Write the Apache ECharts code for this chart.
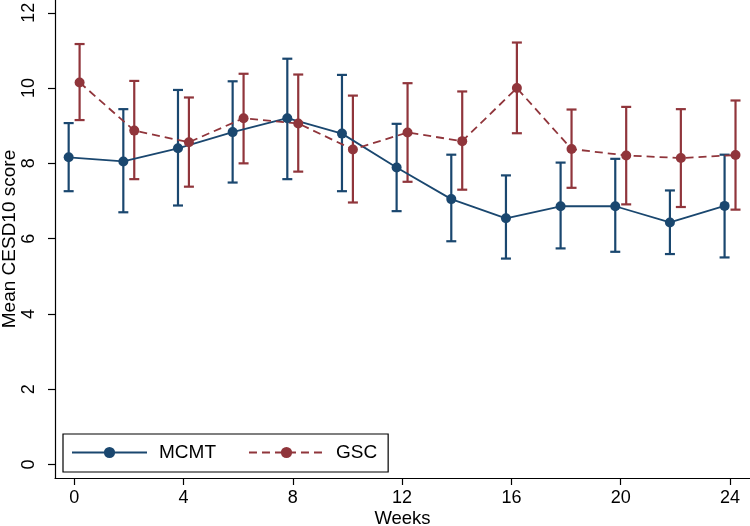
<!DOCTYPE html>
<html>
<head>
<meta charset="utf-8">
<script src="https://cdn.jsdelivr.net/npm/echarts@6/dist/echarts.min.js"></script>
<style>html,body{margin:0;padding:0;background:#fff}#c{width:750px;height:526px}</style>
</head>
<body>
<div id="c"></div>
<script>
const weeks = [0, 2, 4, 6, 8, 10, 12, 14, 16, 18, 20, 22, 24];
const mcmtMean  = [8.16, 8.05, 8.40, 8.83, 9.20, 8.79, 7.89, 7.05, 6.54, 6.86, 6.86, 6.43, 6.87];
const mcmtLower = [7.26, 6.70, 6.88, 7.49, 7.58, 7.26, 6.73, 5.93, 5.47, 5.74, 5.65, 5.59, 5.50];
const mcmtUpper = [9.07, 9.44, 9.95, 10.18, 10.78, 10.35, 9.05, 8.23, 7.68, 8.02, 8.12, 7.28, 8.23];
const gscMean   = [10.15, 8.87, 8.56, 9.20, 9.06, 8.37, 8.82, 8.59, 10.00, 8.38, 8.21, 8.14, 8.22];
const gscLower  = [9.15, 7.58, 7.38, 8.00, 7.78, 6.96, 7.51, 7.30, 8.80, 7.35, 6.91, 6.84, 6.77];
const gscUpper  = [11.17, 10.19, 9.75, 10.38, 10.36, 9.80, 10.13, 9.91, 11.21, 9.43, 9.50, 9.44, 9.67];
const xTicks = [0, 4, 8, 12, 16, 20, 24];
const yTicks = [0, 2, 4, 6, 8, 10, 12];

const DODGE = 0.2;
const BLUE = '#1a476f';
const RED = '#90353b';
const FONT = 'Liberation Sans, Arial, sans-serif';

function pts(mean, off) { return weeks.map((w, i) => [w + off, mean[i]]); }
function bars(lo, hi, off) { return weeks.map((w, i) => [w + off, lo[i], hi[i]]); }

function errRender(color) {
  return function (params, api) {
    const x = api.value(0);
    const a = api.coord([x, api.value(1)]);
    const b = api.coord([x, api.value(2)]);
    const hw = 5;
    const st = { stroke: color, lineWidth: 2.2 };
    return {
      type: 'group',
      children: [
        { type: 'line', shape: { x1: a[0], y1: a[1], x2: b[0], y2: b[1] }, style: st },
        { type: 'line', shape: { x1: a[0] - hw, y1: a[1], x2: a[0] + hw, y2: a[1] }, style: st },
        { type: 'line', shape: { x1: b[0] - hw, y1: b[1], x2: b[0] + hw, y2: b[1] }, style: st }
      ]
    };
  };
}

const chart = echarts.init(document.getElementById('c'));
chart.setOption({
  animation: false,
  backgroundColor: '#fff',
  textStyle: { fontFamily: FONT },
  grid: { left: 55, right: 0, top: 0, bottom: 48, containLabel: false, outerBoundsMode: 'none' },
  xAxis: {
    type: 'value', min: -0.7, max: 24.73,
    name: 'Weeks', nameLocation: 'middle', nameGap: 31, nameMoveOverlap: false,
    nameTextStyle: { fontSize: 18.5, color: '#000', fontFamily: FONT },
    axisLine: { show: true, onZero: false, lineStyle: { color: '#000', width: 1.2 } },
    axisTick: { show: true, length: 7, customValues: xTicks, lineStyle: { color: '#000', width: 1.2 } },
    axisLabel: { customValues: xTicks, fontSize: 18, color: '#000', margin: 11, fontFamily: FONT },
    splitLine: { show: false }
  },
  yAxis: {
    type: 'value', min: -0.36, max: 12.34,
    name: 'Mean CESD10 score', nameLocation: 'middle', nameGap: 36, nameMoveOverlap: false,
    nameTextStyle: { fontSize: 19, color: '#000', fontFamily: FONT },
    axisLine: { show: true, onZero: false, lineStyle: { color: '#000', width: 1.2 } },
    axisTick: { show: true, length: 7, customValues: yTicks, lineStyle: { color: '#000', width: 1.2 } },
    axisLabel: { customValues: yTicks, rotate: 90, fontSize: 18, color: '#000', margin: 17, fontFamily: FONT },
    splitLine: { show: false }
  },
  legend: {
    data: ['MCMT', 'GSC'],
    left: 63, top: 434,
    orient: 'horizontal',
    borderColor: '#000', borderWidth: 1.2,
    padding: [9, 11, 10, 8],
    itemWidth: 75, itemHeight: 14, itemGap: 32,
    textStyle: { fontSize: 19, color: '#000', fontFamily: FONT, padding: [0, 0, 0, 7] }
  },
  series: [
    { type: 'custom', name: 'MCMT CI', renderItem: errRender(BLUE), data: bars(mcmtLower, mcmtUpper, -DODGE), z: 2 },
    { type: 'custom', name: 'GSC CI', renderItem: errRender(RED), data: bars(gscLower, gscUpper, DODGE), z: 2 },
    {
      type: 'line', name: 'MCMT', data: pts(mcmtMean, -DODGE),
      symbol: 'circle', symbolSize: 10,
      itemStyle: { color: BLUE }, lineStyle: { color: BLUE, width: 1.8 }, z: 3
    },
    {
      type: 'line', name: 'GSC', data: pts(gscMean, DODGE),
      symbol: 'circle', symbolSize: 10,
      itemStyle: { color: RED }, lineStyle: { color: RED, width: 1.8, type: [8, 5] }, z: 3
    }
  ]
});
</script>
</body>
</html>
